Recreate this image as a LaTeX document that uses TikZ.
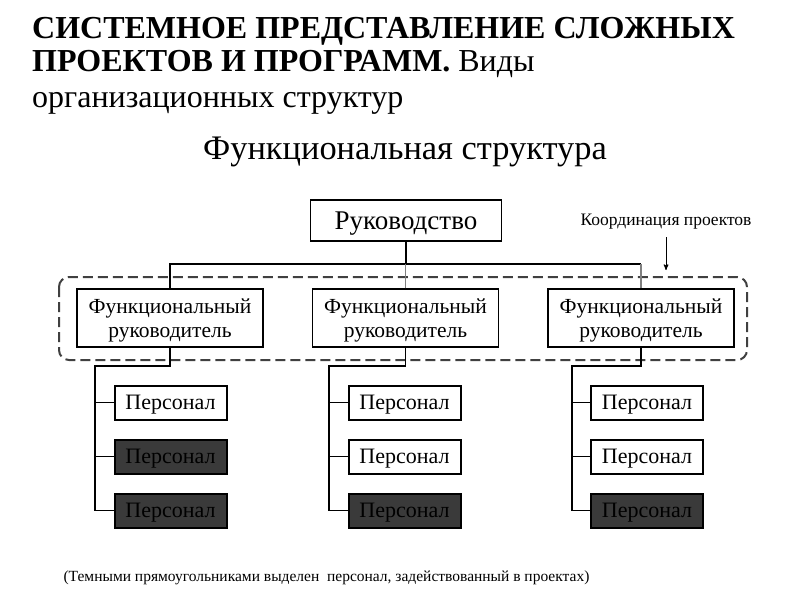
\documentclass[tikz,border=0pt]{standalone}
\usepackage{fontspec}
\setmainfont{Liberation Serif}
\newfontfamily\serifface{Liberation Serif}
\usetikzlibrary{arrows}
\definecolor{darkbox}{HTML}{3A3A3A}
\tikzset{every rk node/.style={draw,line width=1.5pt,minimum width=191pt,minimum height=41pt,inner sep=1pt,text height=17.8pt,text depth=0pt,font=\serifface\fontsize{27}{29}\selectfont}}
\tikzset{every fr node/.style={draw,line width=1.3pt,minimum width=186pt,minimum height=58pt,inner sep=1pt,align=center,text depth=0pt,font=\serifface\fontsize{21.5}{24}\selectfont}}
\tikzset{every ps node/.style={draw,line width=2pt,minimum width=112pt,minimum height=34pt,inner sep=1pt,text height=14.5pt,text depth=0pt,font=\serifface\fontsize{22}{24}\selectfont}}
\tikzset{rk/.style={every rk node}, fr/.style={every fr node}, ps/.style={every ps node}}
\tikzset{psdark/.style={every ps node, fill=darkbox, text=black}}
\tikzset{link/.style={line width=1.3pt}}
\tikzset{titleline/.style={anchor=base west, inner sep=0pt, font=\serifface\fontsize{32}{34}\selectfont}}

\begin{document}
\begin{tikzpicture}[>=stealth', x=1pt, y=-1pt]
                    \useasboundingbox (0,0) rectangle (800,600);
                    %\draw[help lines] (0, 0) grid (800,600);

                    \node[titleline] at (32, 38) (T1){\bfseries СИСТЕМНОЕ ПРЕДСТАВЛЕНИЕ СЛОЖНЫХ};
                    \node[titleline] at (32, 71) (T2){\textbf{ПРОЕКТОВ И ПРОГРАММ.} Виды};
                    \node[titleline] at (32, 107) (T3){организационных структур};
                    \node[titleline, font=\serifface\fontsize{34.4}{36}\selectfont] at (203, 159) (T4){Функциональная структура};

                    \node[rk] at (406, 220.5) (R){Руководство};
                    \node[font=\serifface\fontsize{17.5}{19}\selectfont] at (666, 222) (K){Координация проектов};
                    \coordinate (A) at (666, 270);

                    \node[fr] at (170, 318) (F1){Функциональный\\руководитель};
                    \node[fr] at (405.5, 318) (F2){Функциональный\\руководитель};
                    \node[fr] at (641, 318) (F3){Функциональный\\руководитель};

                    \draw[line width=2pt, black!75, dash pattern=on 10pt off 5pt, rounded corners=10pt] (59, 277) rectangle (747, 360);

                    \node[ps] at (170.5, 402.5) (P11){Персонал};
                    \node[psdark] at (170.5, 456.5) (P12){Персонал};
                    \node[psdark] at (170.5, 510.5) (P13){Персонал};
                    \node[ps] at (404.5, 402.5) (P21){Персонал};
                    \node[ps] at (404.5, 456.5) (P22){Персонал};
                    \node[psdark] at (404.5, 510.5) (P23){Персонал};
                    \node[ps] at (647, 402.5) (P31){Персонал};
                    \node[ps] at (647, 456.5) (P32){Персонал};
                    \node[psdark] at (647, 510.5) (P33){Персонал};

                    \node[font=\serifface\fontsize{15.5}{17}\selectfont] at (326.5, 578) (N){(Темными прямоугольниками выделен \ персонал, задействованный в проектах)};

                    \coordinate (B) at (406, 264);
                    \coordinate (C1) at (95, 366);
                    \coordinate (C2) at (329, 366);
                    \coordinate (C3) at (572, 366);

                    \draw[link] (R.south) -- (B);
                    \draw[link] (F1.north) |- (F3.north |- B);
                    \draw[link, gray] (F2.north) -- (F2.north |- B);
                    \draw[link, gray] (F3.north) -- (F3.north |- B);
                    \draw[->, line width=1pt, shorten <=4pt] (K) -- (A);

                    \foreach \f in {1,2,3} {
                        \draw[link] (F\f.south) |- (C\f) |- (P\f3.west);
                        \draw[link] (C\f |- P\f1.west) -- (P\f1.west);
                        \draw[link] (C\f |- P\f2.west) -- (P\f2.west);
                    }

                \end{tikzpicture}
\end{document}
